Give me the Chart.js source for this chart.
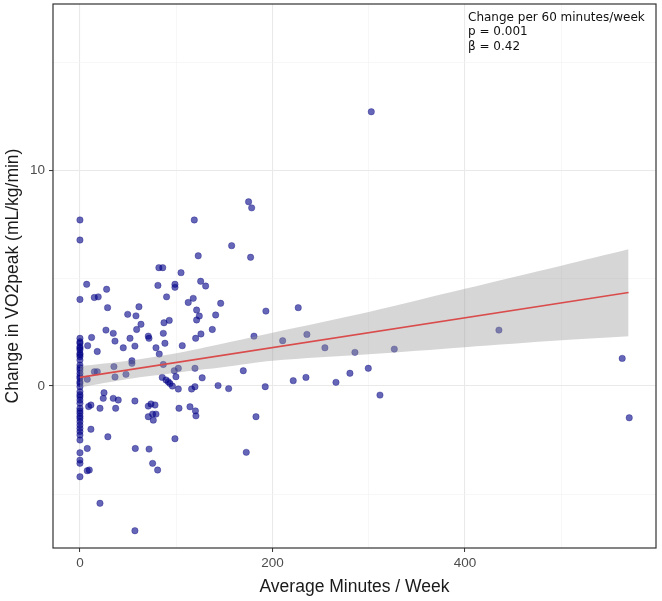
<!DOCTYPE html>
<html>
<head>
<meta charset="utf-8">
<title>Change in VO2peak vs Average Minutes / Week</title>
<script src="https://cdn.jsdelivr.net/npm/chart.js@4.4.1/dist/chart.umd.min.js"></script>
<style>
    html, body { margin: 0; padding: 0; background: #fff; }
    #wrap { width: 662px; height: 601px; }
</style>
</head>
<body>
<div id="wrap"><canvas id="vo2Chart" width="662" height="601"></canvas></div>
<script>
/* ================= DATA ================= */
// participants: average minutes per week vs change in VO2peak
const minutesPerWeek = [
    0, 0, 0, 0, 0, 0, 0, 0, 0, 0, 0, 0, 0, 0, 0, 0, 0, 0, 0, 0, 0,
    0, 0, 0, 0, 0, 0, 0, 0, 0, 0, 0, 0, 0, 0, 0, 0, 0, 0, 0, 0, 0,
    118.8, 122.9, 82, 86, 105, 125.4, 7, 14.9, 19, 27.7, 28.7, 81, 98.7, 98.7, 90,
    112.5, 117.7, 130.6, 121.2, 61.3, 49.6, 58.2, 63.4, 58.9, 27, 34.6, 36.4, 12.1,
    8, 18, 45, 52, 57.1, 71, 71.7, 87.3, 92.8, 86.6, 88.3, 79, 82.4, 106.3, 120.2,
    125.7, 121.2, 124, 54, 54, 15, 18, 35.3, 36.4, 47.8, 7.6, 86.6, 85.5, 89.4, 91.7,
    93.5, 98, 99.7, 102.2, 119.5, 102.2, 96, 116, 119.5, 127, 25, 24.2, 34.6, 39.8,
    11.4, 57.1, 71, 73.8, 78, 102.9, 114.3, 137.5, 141, 146.2, 143.5, 154.5, 120,
    120.5, 71, 75.5, 79, 76.2, 37.1, 20.8, 9, 11.4, 7.6, 7.6, 9.7, 29, 20.8, 57.5,
    71.8, 75.5, 80.7, 57.1, 98.7, 182.9, 172.8, 175.2, 178.4, 157.6, 177.3, 193.2,
    226.8, 180.8, 210.6, 235.8, 254.5, 285.7, 169.7, 192.5, 221.6, 234.8, 266, 280.5,
    299.6, 311.7, 326.6, 435.3, 563.4, 570.7, 302.7
];
const vo2Change = [
    7.69, 6.76, 4.01, 2.21, 2.05, 1.98, 1.82, 1.75, 1.67, 1.51, 1.45, 1.36, 1.2, 0.97,
    0.85, 0.74, 0.59, 0.45, 0.36, 0.2, 0.12, -0.03, -0.26, -0.4, -0.5, -0.65, -0.8,
    -1.03, -1.15, -1.26, -1.4, -1.5, -1.65, -1.81, -1.96, -2.11, -2.27, -2.5, -3.09,
    -3.43, -3.58, -4.2,
    7.69, 6.03, 5.48, 5.48, 5.25, 4.85, 4.71, 4.1, 4.13, 4.48, 3.63, 4.66, 4.71, 4.57,
    4.13, 3.87, 4.06, 4.63, 3.52, 3.67, 3.32, 3.25, 2.86, 2.62, 2.59, 2.44, 2.08, 2.25,
    1.87, 1.6, 1.77, 2.21, 1.85, 2.31, 2.21, 2.93, 3.04, 2.44, 1.98, 1.77, 1.48, 1.87,
    2.21, 2.41, 3.06, 3.24, 1.17, 1.05, 0.66, 0.66, 0.9, 0.42, 0.54, 0.31, 1.0, 0.4,
    0.28, 0.2, 0.12, 0.71, 0.43, 0.82, 0.82, -0.14, 0.0, -0.14, -0.03, 0.38, -0.31,
    -0.57, -0.57, -0.65, -0.88, -0.69, -0.93, -0.83, -0.88, -1.03, -0.96, 2.62, 3.29,
    3.83, 0.02, -0.12, -1.15, -1.38, -1.42, -1.3, -1.3, -1.58, -1.03, -1.03, -0.95,
    -2.0, -2.89, -3.92, -3.89, -2.35, -5.43, -2.89, -2.92, -3.58, -3.89, -6.7, -2.44,
    -1.42, -3.07, 8.53, 8.25, 6.5, 5.96, 3.47, 3.63, 2.31, 2.1, 2.39, 1.77, 1.56, 0.71,
    -0.03, 0.25, 0.4, 0.17, 0.59, 0.82, -0.42, 1.71, 2.59, 1.28, -1.47, 12.7
];

// linear fit and its confidence band
const fitX = [0, 570];
const fitY = [0.4, 4.33];
const bandX = [0, 50, 100, 150, 200, 300, 400, 500, 570];
const bandUpper = [0.92, 1.17, 1.52, 1.98, 2.47, 3.43, 4.5, 5.57, 6.33];
const bandLower = [-0.06, 0.33, 0.62, 0.88, 1.17, 1.47, 1.8, 2.12, 2.3];

const xTicks = [0, 100, 200, 300, 400, 500];
const xLabelled = [0, 200, 400];
const yTicks = [-5, 0, 5, 10, 15];
const yLabelled = [0, 10];

const annotationLines = ["Change per 60 minutes/week", "p = 0.001", "\u03b2 = 0.42"];

/* ================= HELPERS ================= */
const toPoints = (xs, ys) => xs.map((x, i) => ({ x: x, y: ys[i] }));

const GRID_MAJOR = "rgb(233,233,233)";
const GRID_MINOR = "rgb(243,243,243)";
const TICK_FONT = { family: "'Liberation Sans', Arial, sans-serif", size: 13.5 };
const TITLE_FONT = { family: "'Liberation Sans', Arial, sans-serif", size: 17.5 };

function gridStyle(labelled) {
    return {
        color: ctx => (ctx.tick && labelled.includes(ctx.tick.value) ? GRID_MAJOR : GRID_MINOR),
        lineWidth: ctx => (ctx.tick && labelled.includes(ctx.tick.value) ? 1.1 : 0.7),
        tickColor: ctx => (ctx.tick && labelled.includes(ctx.tick.value) ? "#333" : "rgba(0,0,0,0)"),
        tickLength: 4,
        tickWidth: 1
    };
}

/* ================= PLUGINS ================= */
const panelBorder = {
    id: "panelBorder",
    afterDraw(chart) {
        const { ctx, chartArea: a } = chart;
        ctx.save();
        ctx.strokeStyle = "#333";
        ctx.lineWidth = 1.2;
        ctx.strokeRect(a.left, a.top, a.right - a.left, a.bottom - a.top);
        ctx.restore();
    }
};

const statsNote = {
    id: "statsNote",
    afterDraw(chart) {
        const ctx = chart.ctx;
        ctx.save();
        ctx.font = "12px 'DejaVu Sans', sans-serif";
        ctx.fillStyle = "#111";
        ctx.textAlign = "left";
        ctx.textBaseline = "alphabetic";
        annotationLines.forEach((t, i) => ctx.fillText(t, 468, 20.5 + i * 14.5));
        ctx.restore();
    }
};

/* ================= CHART ================= */
new Chart(document.getElementById("vo2Chart"), {
    type: "scatter",
    data: {
        datasets: [
            {
                label: "fit",
                type: "line",
                data: toPoints(fitX, fitY),
                borderColor: "rgb(218,76,76)",
                borderWidth: 1.7,
                pointRadius: 0,
                fill: false,
                order: 1
            },
            {
                label: "upper",
                type: "line",
                data: toPoints(bandX, bandUpper),
                borderWidth: 0,
                borderColor: "rgba(0,0,0,0)",
                backgroundColor: "rgba(153,153,153,0.4)",
                pointRadius: 0,
                tension: 0.3,
                fill: "+1",
                order: 2
            },
            {
                label: "lower",
                type: "line",
                data: toPoints(bandX, bandLower),
                borderWidth: 0,
                borderColor: "rgba(0,0,0,0)",
                pointRadius: 0,
                tension: 0.3,
                fill: false,
                order: 2
            },
            {
                label: "participants",
                data: toPoints(minutesPerWeek, vo2Change),
                backgroundColor: "rgba(0,0,139,0.6)",
                borderColor: "rgba(0,0,120,0.55)",
                borderWidth: 0.6,
                pointRadius: 3.2,
                pointHoverRadius: 3.2,
                order: 3
            }
        ]
    },
    options: {
        responsive: false,
        animation: false,
        events: [],
        layout: { padding: { top: 4, right: 6, left: 0, bottom: 0 } },
        plugins: { legend: { display: false }, tooltip: { enabled: false } },
        scales: {
            x: {
                type: "linear",
                min: -28,
                max: 598.5,
                afterBuildTicks: s => { s.ticks = xTicks.map(v => ({ value: v })); },
                afterFit: s => {
                    s.height = 53;
                    s.paddingLeft = 0;
                    s.paddingRight = 0;
                },
                grid: gridStyle(xLabelled),
                border: { display: false },
                ticks: {
                    autoSkip: false,
                    maxRotation: 0,
                    padding: 3,
                    color: "#4d4d4d",
                    font: TICK_FONT,
                    callback: v => (xLabelled.includes(v) ? String(v) : "")
                },
                title: {
                    display: true,
                    text: "Average Minutes / Week",
                    color: "#1a1a1a",
                    font: TITLE_FONT,
                    padding: { top: 0, bottom: 3.5 }
                }
            },
            y: {
                type: "linear",
                min: -7.5,
                max: 17.69,
                afterBuildTicks: s => { s.ticks = yTicks.map(v => ({ value: v })); },
                afterFit: s => {
                    s.width = 53;
                    s.paddingTop = 0;
                    s.paddingBottom = 0;
                },
                grid: gridStyle(yLabelled),
                border: { display: false },
                ticks: {
                    autoSkip: false,
                    padding: 4,
                    color: "#4d4d4d",
                    font: TICK_FONT,
                    callback: v => (yLabelled.includes(v) ? String(v) : "")
                },
                title: {
                    display: true,
                    text: "Change in VO2peak (mL/kg/min)",
                    color: "#1a1a1a",
                    font: TITLE_FONT,
                    padding: { top: 2.5, bottom: 0 }
                }
            }
        }
    },
    plugins: [panelBorder, statsNote]
});
</script>
</body>
</html>
